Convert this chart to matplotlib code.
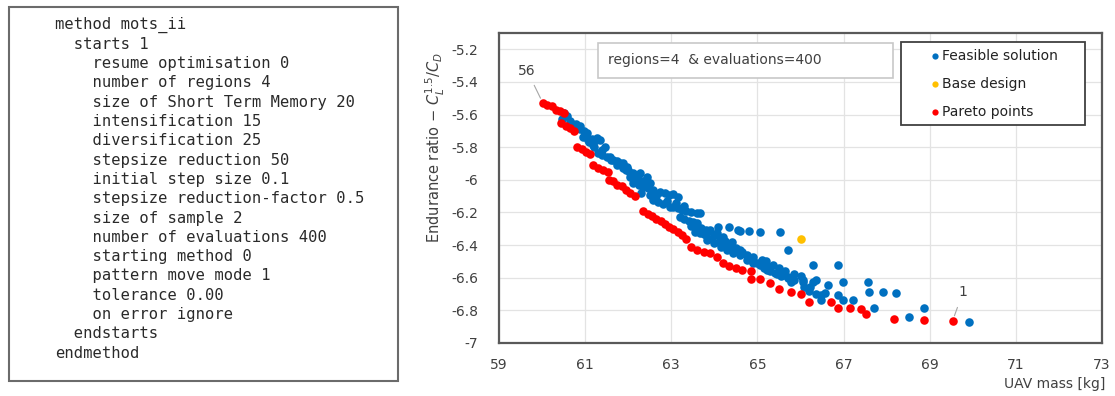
import matplotlib
matplotlib.use("Agg")
import matplotlib.pyplot as plt
from matplotlib.patches import Rectangle

# ---------------- data ----------------
method_lines = [
    "method mots_ii",
    "  starts 1",
    "    resume optimisation 0",
    "    number of regions 4",
    "    size of Short Term Memory 20",
    "    intensification 15",
    "    diversification 25",
    "    stepsize reduction 50",
    "    initial step size 0.1",
    "    stepsize reduction-factor 0.5",
    "    size of sample 2",
    "    number of evaluations 400",
    "    starting method 0",
    "    pattern move mode 1",
    "    tolerance 0.00",
    "    on error ignore",
    "  endstarts",
    "endmethod",
]

feasible_x = [60.51, 60.47, 60.70, 60.78, 60.88, 60.88, 60.97, 61.05, 60.95,
              61.07, 61.15, 61.25, 61.35, 61.28, 61.19, 61.30, 61.40, 61.50, 61.58,
              61.65, 61.73, 61.81, 61.88, 61.88, 61.95, 62.05, 62.12,
              62.05, 62.15, 62.25, 62.35, 62.44, 61.98, 62.10, 62.20, 62.28, 62.44,
              62.51, 62.12, 62.25, 62.35, 62.45, 62.58,
              62.74, 62.85, 62.95, 63.05, 63.16, 62.58, 62.70, 62.80, 62.98,
              63.05, 63.15, 63.25, 63.35, 63.45, 63.60, 63.67,
              63.21, 63.30, 63.40, 63.50, 63.60,
              63.60, 63.70, 63.80, 63.90, 64.07, 63.84,
              64.09, 64.33, 64.56, 64.60, 64.14, 64.25, 64.40, 64.60,
              64.81, 65.05, 65.53, 65.70,
              63.67, 63.80, 63.95, 64.14, 63.84, 64.00, 64.15, 64.30, 64.44,
              64.30, 64.45, 64.60, 64.75, 64.90, 65.05, 65.23,
              64.84, 65.00, 65.15, 65.30, 65.45, 65.60, 65.70,
              65.23, 65.40, 65.55, 65.70, 65.84,
              65.77, 66.05, 66.23, 66.35, 66.30, 66.88,
              66.05, 66.30, 66.07, 66.20, 66.35, 66.47,
              66.65, 66.98, 66.58, 66.86, 66.98, 67.23, 66.47,
              67.56, 67.58, 67.91, 68.21, 67.70, 68.86, 68.51, 69.91,
              63.45, 63.55, 63.75, 64.00, 64.20, 64.35, 64.50, 64.65, 64.75,
              64.90, 65.10, 65.20, 65.35, 65.50, 65.65, 65.85, 66.00,
              62.65, 62.90, 63.10, 63.30, 62.30, 62.50, 61.60, 61.75, 62.00,
              61.20, 61.40, 61.45, 60.65, 60.58, 61.00, 61.10]
feasible_y = [-5.59, -5.63, -5.655, -5.66, -5.673, -5.69, -5.70, -5.71, -5.735,
              -5.753, -5.75, -5.753, -5.753, -5.741, -5.784, -5.833, -5.845, -5.857, -5.857,
              -5.876, -5.885, -5.894, -5.894, -5.925, -5.94, -5.956, -5.956,
              -5.98, -5.99, -6.00, -6.01, -6.017, -5.92, -5.97, -5.975, -5.956, -5.98,
              -6.017, -6.017, -6.03, -6.045, -6.05, -6.06,
              -6.072, -6.08, -6.09, -6.085, -6.103, -6.122, -6.135, -6.15, -6.165,
              -6.165, -6.175, -6.185, -6.19, -6.195, -6.201, -6.201,
              -6.226, -6.24, -6.25, -6.26, -6.263,
              -6.287, -6.295, -6.305, -6.31, -6.324, -6.318,
              -6.287, -6.287, -6.306, -6.316, -6.367, -6.375, -6.38, -6.43,
              -6.312, -6.318, -6.318, -6.429,
              -6.324, -6.34, -6.36, -6.386, -6.367, -6.39, -6.41, -6.43, -6.447,
              -6.41, -6.43, -6.46, -6.49, -6.51, -6.52, -6.533,
              -6.49, -6.51, -6.54, -6.56, -6.575, -6.585, -6.595,
              -6.552, -6.57, -6.59, -6.60, -6.613,
              -6.625, -6.613, -6.656, -6.613, -6.521, -6.521,
              -6.625, -6.625, -6.656, -6.68, -6.70, -6.705,
              -6.644, -6.625, -6.693, -6.705, -6.736, -6.736, -6.736,
              -6.625, -6.687, -6.687, -6.693, -6.785, -6.785, -6.84, -6.871,
              -6.28, -6.32, -6.33, -6.34, -6.35, -6.40, -6.42, -6.44, -6.46,
              -6.47, -6.49, -6.50, -6.52, -6.54, -6.56, -6.58, -6.59,
              -6.10, -6.13, -6.14, -6.16, -6.08, -6.09, -5.88, -5.91, -5.94,
              -5.80, -5.82, -5.80, -5.64, -5.61, -5.73, -5.77]

base_x = [66.0]
base_y = [-6.36]

pareto_x = [60.02, 60.12, 60.22, 60.32, 60.42, 60.50,
            60.45, 60.55, 60.65, 60.75,
            60.82, 60.92, 61.02, 61.12,
            61.18, 61.30, 61.42, 61.52,
            61.55, 61.65, 61.75, 61.85, 61.95, 62.05, 62.15,
            62.35, 62.45, 62.55, 62.65, 62.75, 62.85, 62.95,
            63.05, 63.15, 63.25, 63.35,
            63.45, 63.60, 63.75, 63.90, 64.05,
            64.20, 64.35, 64.50, 64.65,
            64.84, 64.86, 65.07, 65.30, 65.49, 65.77, 66.00,
            66.19, 66.70, 66.86, 67.14, 67.40, 67.51, 68.16, 68.86, 69.53]
pareto_y = [-5.53, -5.54, -5.55, -5.57, -5.58, -5.59,
            -5.65, -5.67, -5.68, -5.70,
            -5.80, -5.81, -5.83, -5.84,
            -5.91, -5.93, -5.94, -5.95,
            -6.00, -6.01, -6.03, -6.04, -6.06, -6.08, -6.10,
            -6.19, -6.21, -6.22, -6.24, -6.25, -6.27, -6.29,
            -6.30, -6.32, -6.34, -6.36,
            -6.41, -6.43, -6.44, -6.45, -6.47,
            -6.51, -6.53, -6.54, -6.55,
            -6.56, -6.61, -6.61, -6.63, -6.67, -6.69, -6.70,
            -6.75, -6.75, -6.785, -6.785, -6.79, -6.82, -6.85, -6.86, -6.865]

x_ticks = [59, 61, 63, 65, 67, 69, 71, 73]
y_ticks = [-7, -6.8, -6.6, -6.4, -6.2, -6, -5.8, -5.6, -5.4, -5.2]
y_ticklabels = ["-7", "-6.8", "-6.6", "-6.4", "-6.2", "-6", "-5.8", "-5.6", "-5.4", "-5.2"]

series_labels = ["Feasible solution", "Base design", "Pareto points"]
note_text = "regions=4  & evaluations=400"

# ---------------- figure ----------------
W, H = 1115, 396
fig = plt.figure(figsize=(W / 100, H / 100), dpi=100)

def fx(px):
    return px / W

def fy(py):
    return 1 - py / H

# left text box
fig.patches.append(Rectangle((fx(9), fy(381)), fx(398) - fx(9), fy(7) - fy(381),
                             transform=fig.transFigure, fill=False,
                             edgecolor="#6b6b6b", linewidth=1.5))
y0 = 25
dy = 19.3
for i, line in enumerate(method_lines):
    fig.text(fx(55), fy(y0 + i * dy), line, family="DejaVu Sans Mono",
             fontsize=11.2, color="#2a2a2a", va="center", ha="left")

# scatter chart
ax = fig.add_axes([fx(499), fy(343), fx(1102) - fx(499), fy(33) - fy(343)])
c_blue = "#0070C0"
c_yellow = "#FFC000"
c_red = "#FF0000"
msize = 38
ax.scatter(feasible_x, feasible_y, s=msize, color=c_blue, linewidths=0, zorder=3)
ax.scatter(base_x, base_y, s=msize, color=c_yellow, linewidths=0, zorder=3)
ax.scatter(pareto_x, pareto_y, s=msize, color=c_red, linewidths=0, zorder=4)

ax.set_xlim(59, 73)
ax.set_ylim(-7, -5.1)
ax.set_xticks(x_ticks)
ax.set_yticks(y_ticks)
ax.set_yticklabels(y_ticklabels)
ax.grid(True, color="#e3e3e3", linewidth=0.9, zorder=0)
ax.set_axisbelow(True)
for sp in ax.spines.values():
    sp.set_color("#595959")
    sp.set_linewidth(1.6)
ax.tick_params(axis="both", length=0, labelsize=10, colors="#404040")
ax.tick_params(axis="y", pad=15)
ax.tick_params(axis="x", pad=11)

ax.set_ylabel(r"Endurance ratio $-\ C_L^{1.5}/C_D$", fontsize=10.5, color="#404040")
ax.yaxis.set_label_coords(-0.086, 0.63)
ax.set_xlabel("UAV mass [kg]", fontsize=10, color="#404040", ha="right")
ax.xaxis.set_label_coords(1.005, -0.11)

# point annotations
ax.annotate("56", xy=(pareto_x[0], pareto_y[0]), xytext=(59.65, -5.33),
            ha="center", va="center", fontsize=10, color="#404040",
            arrowprops=dict(arrowstyle="-", color="#a6a6a6", lw=0.8,
                            shrinkA=4, shrinkB=4))
ax.annotate("1", xy=(pareto_x[-1], pareto_y[-1]), xytext=(69.77, -6.69),
            ha="center", va="center", fontsize=10, color="#404040",
            arrowprops=dict(arrowstyle="-", color="#a6a6a6", lw=0.8,
                            shrinkA=4, shrinkB=4))

# note box
def axx(px):
    return (px - 499) / (1102 - 499)

def axy(py):
    return (343 - py) / (343 - 33)

ax.add_patch(Rectangle((axx(598), axy(78)), axx(893) - axx(598), axy(43) - axy(78),
                       transform=ax.transAxes, facecolor="white",
                       edgecolor="#c8c8c8", linewidth=1.2, zorder=5))
ax.text(axx(608), axy(60), note_text, transform=ax.transAxes, fontsize=10,
        color="#404040", va="center", ha="left", zorder=6)

# legend box
ax.add_patch(Rectangle((axx(901), axy(125)), axx(1085) - axx(901), axy(42) - axy(125),
                       transform=ax.transAxes, facecolor="white",
                       edgecolor="#404040", linewidth=1.3, zorder=5))
for i, (c, lab) in enumerate(zip((c_blue, c_yellow, c_red), series_labels)):
    yy = axy(56 + i * 28)
    ax.plot([axx(935)], [yy], marker="o", markersize=4.5, color=c,
            markeredgewidth=0, transform=ax.transAxes, zorder=6, clip_on=False)
    ax.text(axx(942), yy, lab, transform=ax.transAxes, fontsize=10,
            color="#222222", va="center", ha="left", zorder=6)

fig.savefig("out.png", dpi=100, facecolor="white")
